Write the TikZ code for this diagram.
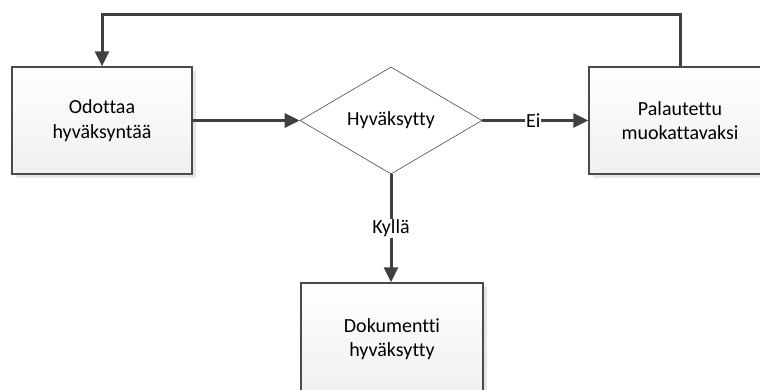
\documentclass[tikz,border=0pt]{standalone}
\usepackage{fontspec}
\setmainfont{Carlito}[Ligatures=NoCommon]
\usetikzlibrary{arrows.meta,shapes.geometric,shadows}
\definecolor{linec}{HTML}{404040}
\definecolor{boxc}{HTML}{4A4A4A}
\tikzset{
  procbox/.style={rectangle, draw=boxc, line width=1.4pt, minimum width=180pt, minimum height=107pt,
    top color=white, bottom color=black!6, align=center, inner sep=0pt,
    font=\fontsize{20}{24.5}\selectfont,
    drop shadow={shadow xshift=4pt, shadow yshift=-4pt, fill=black!10, opacity=1}},
  decision/.style={diamond, draw=boxc, line width=0.6pt, minimum width=182pt, minimum height=107pt,
    aspect=1.7, inner sep=0pt, fill=white, font=\fontsize{20}{24.5}\selectfont},
  conn/.style={draw=linec, line width=3pt, -{Triangle[length=15pt,width=14pt]}},
  lbl/.style={fill=white, inner sep=1pt, font=\fontsize{20}{24.5}\selectfont},
}
\begin{document}
\begin{tikzpicture}[x=1pt,y=-1pt]
\useasboundingbox (0,0) rectangle (760,389);
\begin{scope}
\clip (0,0) rectangle (760,389);
\node[procbox] (wait) at (102,120.5) {Odottaa\\hyväksyntää};
\node[decision] (dec) at (391,120.5) {Hyväksytty};
\node[procbox, minimum width=182pt] (ret) at (680,120.5) {Palautettu\\muokattavaksi};
\node[procbox, minimum width=182pt, minimum height=113pt] (ok) at (392,339.5) {\raisebox{4pt}{\begin{tabular}{@{}c@{}}Dokumentti\\hyväksytty\end{tabular}}};
\coordinate (tr) at (680,14);
\coordinate (tl) at (102,14);
\draw[conn] (wait.east) -- (dec.west);
\draw[conn] (dec.east) -- node[lbl, pos=0.48] {Ei} (ret.west);
\draw[conn] (dec.south) -- node[lbl, pos=0.5] {Kyllä} (ok.north -| dec.south);
\draw[conn] (ret.north) -- (tr) -- (tl) -- (wait.north);
\end{scope}
\end{tikzpicture}
\end{document}
